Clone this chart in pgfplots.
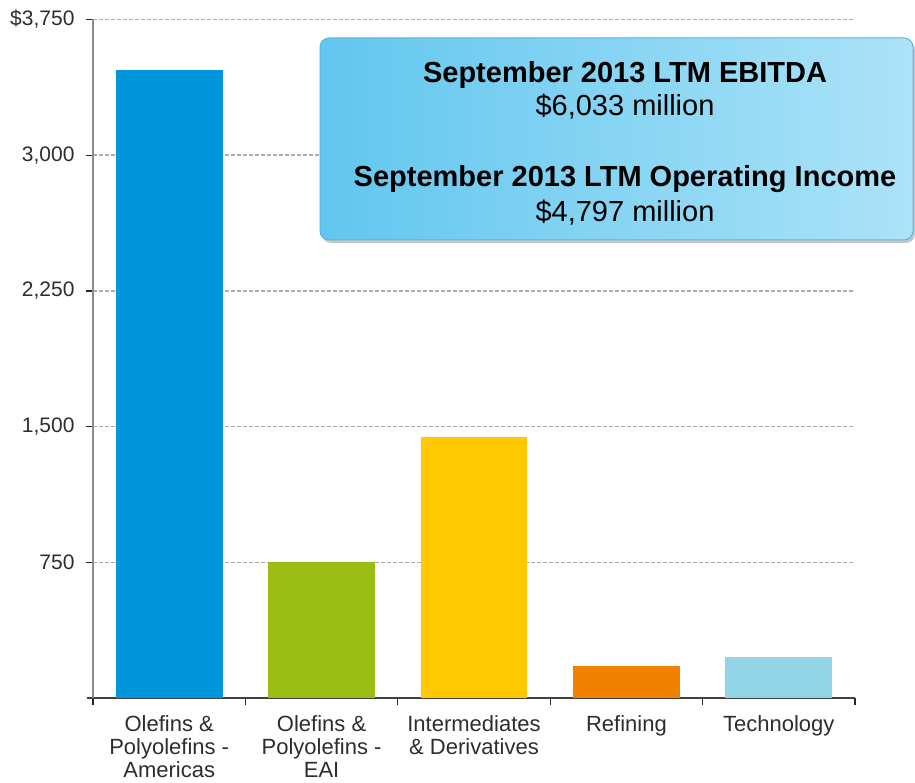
\documentclass[border=0pt]{standalone}
\usepackage{pgfplots}
\pgfplotsset{compat=1.18}
\usepackage{fontspec}
\setmainfont{Liberation Sans}
\usetikzlibrary{shadows}
\definecolor{cAm}{RGB}{0,150,219}
\definecolor{cEai}{RGB}{155,189,20}
\definecolor{cInt}{RGB}{255,200,0}
\definecolor{cRef}{RGB}{240,130,0}
\definecolor{cTec}{RGB}{146,213,230}
\definecolor{cBoxL}{RGB}{98,198,238}
\definecolor{cBoxR}{RGB}{172,227,248}
\definecolor{cBoxE}{RGB}{88,182,224}
\definecolor{cTxt}{RGB}{45,45,45}
\begin{document}
\begin{tikzpicture}
\begin{axis}[
  at={(93pt,84pt)}, anchor=south west,
  scale only axis, width=762pt, height=678.5pt,
  xmin=-0.5, xmax=4.5, ymin=0, ymax=3750,
  axis x line*=bottom, axis y line*=left,
  x axis line style={-, draw=black!75, line width=1.5pt, shorten <=-6pt},
  y axis line style={-, draw=black!45, line width=2pt},
  ytick={750,1500,2250,3000,3750},
  yticklabels={750,{1,500},{2,250},{3,000},{\$3,750}},
  ymajorgrids,
  major grid style={dash pattern=on 4pt off 2pt, draw=black!33, line width=1.6pt},
  xtick={-0.5,0.5,1.5,2.5,3.5,4.5}, xticklabels={},
  extra x ticks={0,1,2,3,4},
  extra x tick labels={{Olefins \&\\Polyolefins -\\Americas},{Olefins \&\\Polyolefins -\\EAI},{Intermediates\\\& Derivatives},{Refining},{Technology}},
  extra x tick style={major tick length=0pt, grid=none},
  tick align=outside,
  major tick length=7pt,
  tick style={draw=black!85, line width=1.3pt},
  yticklabel style={font=\fontsize{21}{25}\selectfont, text=cTxt, xshift=-8pt},
  xticklabel style={font=\fontsize{22}{23}\selectfont, text=cTxt, align=center, anchor=north, yshift=-14pt},
  ybar, bar width=0.70,
  clip=false,
]
\addplot[fill=cAm, draw=none, bar shift=0pt] coordinates {(0,3470)};
\addplot[fill=cEai, draw=none, bar shift=0pt] coordinates {(1,750)};
\addplot[fill=cInt, draw=none, bar shift=0pt] coordinates {(2,1443)};
\addplot[fill=cRef, draw=none, bar shift=0pt] coordinates {(3,177)};
\addplot[fill=cTec, draw=none, bar shift=0pt] coordinates {(4,227)};
\end{axis}
\draw[rounded corners=9pt, draw=cBoxE, line width=1pt, left color=cBoxL, right color=cBoxR,
  drop shadow={shadow xshift=2pt, shadow yshift=-3pt, opacity=0.45}]
  (320pt,542pt) rectangle (913pt,744pt);
\node[anchor=base, font=\fontsize{29}{34}\selectfont\bfseries] at (625pt,699pt) {September 2013 LTM EBITDA};
\node[anchor=base, font=\fontsize{29}{34}\selectfont] at (625pt,666pt) {\$6,033 million};
\node[anchor=base, font=\fontsize{29}{34}\selectfont\bfseries] at (625pt,595pt) {September 2013 LTM Operating Income};
\node[anchor=base, font=\fontsize{29}{34}\selectfont] at (625pt,560pt) {\$4,797 million};
\pgfresetboundingbox
\path[use as bounding box] (0,0) rectangle (915pt,782pt);
\end{tikzpicture}
\end{document}
